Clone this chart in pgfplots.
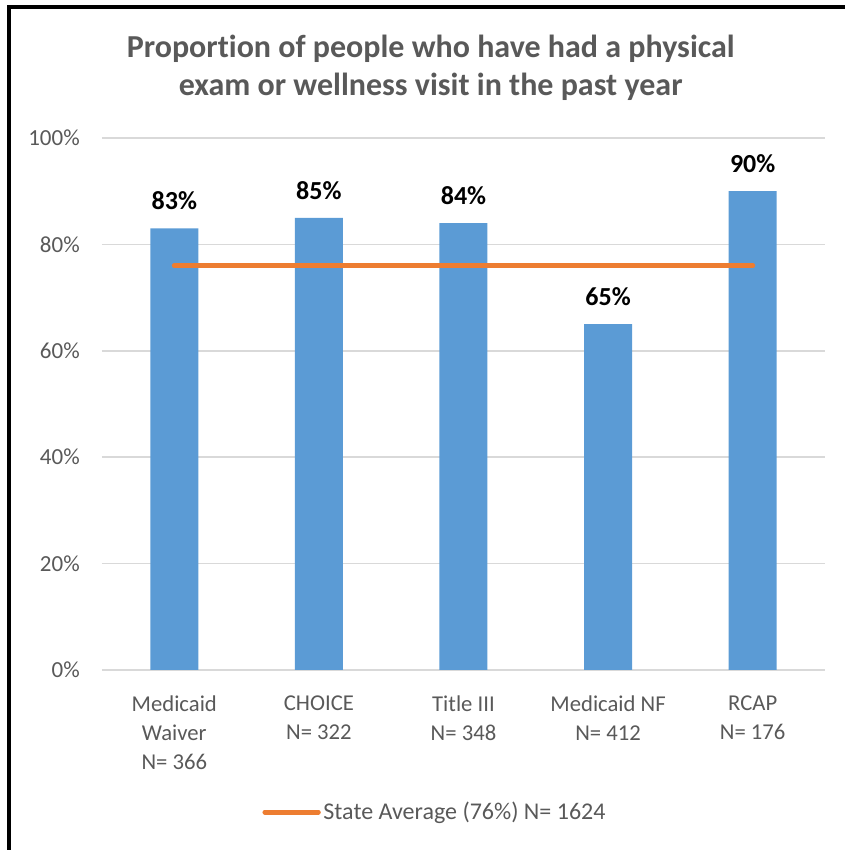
\documentclass[border=0pt]{standalone}
\usepackage{fontspec}
\setmainfont{Carlito}[Ligatures={NoCommon}]
\usepackage{pgfplots}
\pgfplotsset{compat=1.18}
\definecolor{barblue}{HTML}{5B9BD5}
\definecolor{avgorange}{HTML}{ED7D31}
\definecolor{gridgray}{HTML}{D9D9D9}
\definecolor{textgray}{HTML}{595959}
\begin{document}
\begin{tikzpicture}
\useasboundingbox (0,0) rectangle (633.75pt,637.5pt);
% frame (top and left)
\draw[line width=3pt] (6.75pt,0pt) -- (6.75pt,632.25pt) -- (633.75pt,632.25pt);
% title
\node[align=center, text=textgray, font=\fontsize{24}{28.5}\selectfont\bfseries] at (323pt,587pt)
  {Proportion of people who have had a physical\\exam or wellness visit in the past year};
\begin{axis}[
  at={(76.5pt,135pt)}, anchor=south west,
  scale only axis, width=542.25pt, height=399pt,
  xmin=-0.5, xmax=4.5, ymin=0, ymax=100,
  ytick={0,20,40,60,80,100},
  xtick={0,1,2,3,4},
  xticklabels={{Medicaid\\Waiver\\N= 366},{CHOICE\\N= 322},{Title III\\N= 348},{Medicaid NF\\N= 412},{RCAP\\N= 176}},
  /pgf/number format/assume math mode=true,
  yticklabel={\pgfmathprintnumber{\tick}\%},
  axis line style={draw=none},
  major tick length=0pt,
  ymajorgrids, grid style={draw=gridgray, line width=1.1pt},
  yticklabel style={anchor=east, inner sep=0pt, xshift=-16.5pt, text=textgray, font=\fontsize{17.25}{21.75}\selectfont},
  xticklabel style={anchor=north, align=center, inner sep=0pt, yshift=-19pt, text=textgray, font=\fontsize{17}{21.75}\selectfont},
  legend style={at={(0.461,-0.267)}, anchor=center, draw=none, fill=none, font=\fontsize{18}{21.75}\selectfont, text=textgray, inner sep=0pt},
  legend image code/.code={\draw[#1] (0pt,0pt) -- (40pt,0pt);},
  legend cell align=left,
]
\addplot[ybar, bar width=36pt, fill=barblue, draw=none, forget plot,
  point meta=y,
  nodes near coords={\pgfmathprintnumber{\pgfplotspointmeta}\%},
  every node near coord/.append style={anchor=base, yshift=14pt, inner sep=0pt, text=black, font=\fontsize{19.5}{24}\selectfont\bfseries}]
  coordinates {(0,83) (1,85) (2,84) (3,65) (4,90)};
\addplot[avgorange, line width=3.75pt, line cap=round] coordinates {(0,76) (4,76)};
\addlegendentry{State Average (76\%) N= 1624}
\end{axis}
\end{tikzpicture}
\end{document}
